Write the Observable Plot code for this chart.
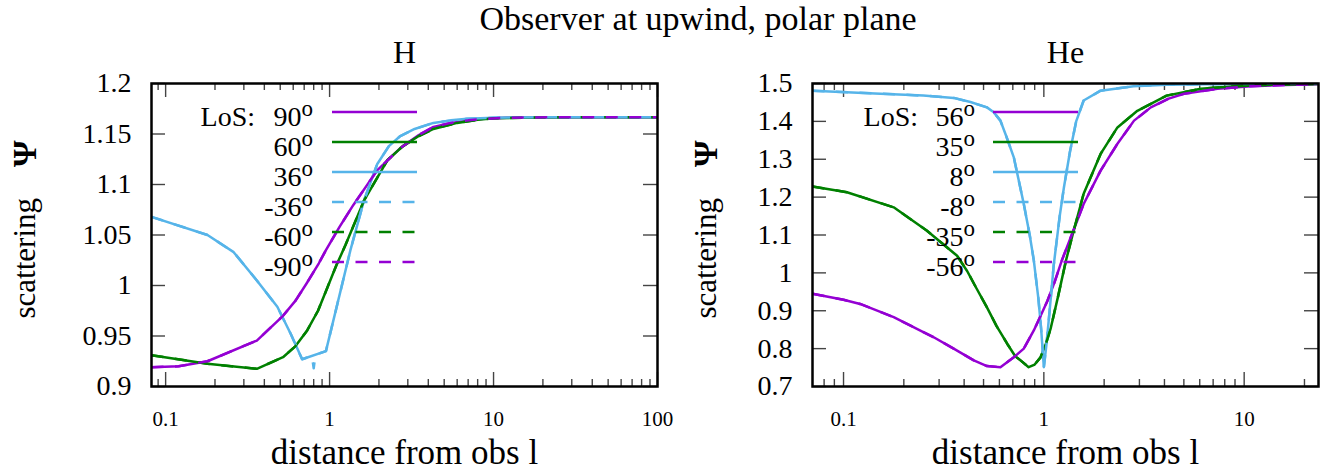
<!DOCTYPE html>
<html>
<head>
<meta charset="utf-8">
<script src="https://cdn.jsdelivr.net/npm/d3@7"></script>
<script src="https://cdn.jsdelivr.net/npm/@observablehq/plot@0.6"></script>
<style>
  body { margin: 0; background: #fff; }
  #chart { position: relative; width: 1330px; height: 471px; background: #fff; font-family: "Liberation Serif", "Times New Roman", serif; color: #000; }
  #chart svg { position: absolute; top: 0; }
  #title { position: absolute; top: 1px; left: 698px; transform: translateX(-50%); white-space: nowrap; font-size: 34px; line-height: 36px; z-index: 2; }
</style>
</head>
<body>
<div id="chart"><div id="title">Observer at upwind, polar plane</div></div>
<script>
// ---- H panel: scattering factor vs distance, one curve per line-of-sight angle ----
const H_x90 = [0.082, 0.12, 0.18, 0.36, 0.52, 0.62, 0.73, 0.86, 0.95, 1.15, 1.4, 1.95, 2.7, 3.5, 4.3, 5.5, 7, 8.7, 12, 17.5, 30, 60, 100];
const H_y90 = [0.919, 0.920, 0.925, 0.9455, 0.970, 0.985, 1.003, 1.022, 1.035, 1.058, 1.080, 1.114, 1.136, 1.149, 1.157, 1.161, 1.1635, 1.165, 1.166, 1.1664, 1.1666, 1.1667, 1.1667];

const H_x60 = [0.082, 0.18, 0.36, 0.52, 0.62, 0.73, 0.85, 0.97, 1.1, 1.25, 1.62, 2.25, 2.8, 3.5, 4.3, 6, 8, 10, 15, 30, 60, 100];
const H_y60 = [0.931, 0.9225, 0.9175, 0.929, 0.940, 0.9555, 0.975, 0.998, 1.020, 1.040, 1.084, 1.124, 1.138, 1.148, 1.155, 1.161, 1.164, 1.1655, 1.1662, 1.1666, 1.1667, 1.1667];

const H_x36 = [0.082, 0.18, 0.26, 0.36, 0.48, 0.58, 0.68, 0.95, 1.34, 1.62, 1.95, 2.3, 2.7, 3.3, 4.3, 5.5, 6.9, 10, 20, 50, 100];
const H_y36 = [1.068, 1.050, 1.033, 1.005, 0.979, 0.952, 0.927, 0.935, 1.035, 1.084, 1.120, 1.138, 1.148, 1.155, 1.161, 1.1635, 1.165, 1.1662, 1.1666, 1.1667, 1.1667];

// negative angles (dashed) follow their positive twins; -36 has a narrow dip near l = 0.8
const H_xm36 = [0.082, 0.18, 0.26, 0.36, 0.48, 0.58, 0.68, 0.78, 0.80, 0.82, 0.95, 1.34, 1.62, 1.95, 2.3, 2.7, 3.3, 4.3, 5.5, 6.9, 10, 20, 50, 100];
const H_ym36 = [1.068, 1.050, 1.033, 1.005, 0.979, 0.952, 0.927, 0.9303, 0.918, 0.9315, 0.935, 1.035, 1.084, 1.120, 1.138, 1.148, 1.155, 1.161, 1.1635, 1.165, 1.1662, 1.1666, 1.1667, 1.1667];

const H_yTicks = [0.9, 0.95, 1, 1.05, 1.1, 1.15, 1.2];
const H_xMajor = [0.1, 1, 10, 100];
const H_xMinor = [0.09, 0.2, 0.3, 0.4, 0.5, 0.6, 0.7, 0.8, 0.9, 2, 3, 4, 5, 6, 7, 8, 9, 20, 30, 40, 50, 60, 70, 80, 90];

// ---- He panel ----
const He_x56 = [0.07, 0.1, 0.121, 0.178, 0.282, 0.36, 0.447, 0.52, 0.607, 0.708, 0.794, 0.891, 0.96, 1.04, 1.13, 1.23, 1.4, 1.58, 1.92, 2.33, 2.82, 3.42, 4.2, 5.0, 7.36, 10.8, 16, 23.5];
const He_y56 = [0.945, 0.929, 0.918, 0.883, 0.830, 0.798, 0.769, 0.754, 0.751, 0.777, 0.800, 0.848, 0.885, 0.925, 0.975, 1.033, 1.110, 1.182, 1.270, 1.341, 1.402, 1.437, 1.460, 1.473, 1.486, 1.493, 1.496, 1.498];

const He_x35 = [0.07, 0.104, 0.178, 0.26, 0.369, 0.414, 0.46, 0.52, 0.58, 0.656, 0.72, 0.765, 0.84, 0.90, 0.963, 1.02, 1.08, 1.18, 1.29, 1.41, 1.58, 1.92, 2.33, 2.93, 4.1, 6.07, 8.9, 14, 23.5];
const He_y35 = [1.228, 1.213, 1.173, 1.112, 1.045, 1.005, 0.960, 0.909, 0.860, 0.813, 0.780, 0.769, 0.751, 0.758, 0.777, 0.810, 0.852, 0.940, 1.033, 1.112, 1.209, 1.314, 1.384, 1.428, 1.468, 1.486, 1.493, 1.497, 1.499];

const He_x8 = [0.07, 0.153, 0.25, 0.355, 0.43, 0.52, 0.56, 0.607, 0.65, 0.708, 0.794, 0.85, 0.891, 0.94, 0.97, 1.0, 1.03, 1.06, 1.09, 1.12, 1.2, 1.26, 1.35, 1.45, 1.58, 1.92, 2.8, 4.1, 8, 23.5];
const He_y8 = [1.481, 1.473, 1.468, 1.462, 1.451, 1.437, 1.425, 1.402, 1.36, 1.305, 1.182, 1.10, 1.033, 0.93, 0.85, 0.751, 0.81, 0.88, 0.95, 1.02, 1.15, 1.226, 1.32, 1.40, 1.455, 1.481, 1.493, 1.497, 1.499, 1.5];

const He_yTicks = [0.7, 0.8, 0.9, 1, 1.1, 1.2, 1.3, 1.4, 1.5];
const He_xMajor = [0.1, 1, 10];
const He_xMinor = [0.08, 0.09, 0.2, 0.3, 0.4, 0.5, 0.6, 0.7, 0.8, 0.9, 2, 3, 4, 5, 6, 7, 8, 9, 20];

const PURPLE = "#9400d3", GREEN = "#008000", SKY = "#56b4e9";
const DASH = "12,11.5";
const SERIF = '"Liberation Serif", "Times New Roman", serif';

const H_series = [
  {label: "90",  color: PURPLE, dashed: false, x: H_x90,  y: H_y90},
  {label: "60",  color: GREEN,  dashed: false, x: H_x60,  y: H_y60},
  {label: "36",  color: SKY,    dashed: false, x: H_x36,  y: H_y36},
  {label: "-36", color: SKY,    dashed: true,  x: H_xm36, y: H_ym36},
  {label: "-60", color: GREEN,  dashed: true,  x: H_x60,  y: H_y60},
  {label: "-90", color: PURPLE, dashed: true,  x: H_x90,  y: H_y90}
];
const He_series = [
  {label: "56",  color: PURPLE, dashed: false, x: He_x56, y: He_y56},
  {label: "35",  color: GREEN,  dashed: false, x: He_x35, y: He_y35},
  {label: "8",   color: SKY,    dashed: false, x: He_x8,  y: He_y8},
  {label: "-8",  color: SKY,    dashed: true,  x: He_x8,  y: He_y8},
  {label: "-35", color: GREEN,  dashed: true,  x: He_x35, y: He_y35},
  {label: "-56", color: PURPLE, dashed: true,  x: He_x56, y: He_y56}
];

const fmtY = d => String(+d.toFixed(2));

function drawPanel(cfg) {
  const W = 665, H = 471, mt = 83, mb = 85;
  const fw = W - cfg.ml - cfg.mr, fh = H - mt - mb;
  const tick = {stroke: "#444", strokeWidth: 1.4};
  const lines = cfg.series.map(s => Plot.line(d3.zip(s.x, s.y), {
    x: d => d[0], y: d => d[1], stroke: s.color, strokeWidth: 2.5,
    strokeDasharray: s.dashed ? DASH : null, strokeLinecap: s.dashed ? "butt" : "round",
    strokeLinejoin: "round", clip: true
  }));
  const svg = Plot.plot({
    width: W, height: H,
    marginLeft: cfg.ml, marginRight: cfg.mr, marginTop: mt, marginBottom: mb,
    style: {fontFamily: SERIF, color: "black", background: "none", overflow: "visible"},
    x: {type: "log", domain: cfg.xDomain},
    y: {domain: cfg.yDomain},
    marks: [
      // inward ticks on all four sides
      Plot.ruleY(cfg.yTicks, {y: d => d, ...tick, insetRight: fw - 14}),
      Plot.ruleY(cfg.yTicks, {y: d => d, ...tick, insetLeft: fw - 14}),
      Plot.ruleX(cfg.xMajor, {x: d => d, ...tick, insetTop: fh - 14}),
      Plot.ruleX(cfg.xMajor, {x: d => d, ...tick, insetBottom: fh - 14}),
      Plot.ruleX(cfg.xMinor, {x: d => d, ...tick, insetTop: fh - 7}),
      Plot.ruleX(cfg.xMinor, {x: d => d, ...tick, insetBottom: fh - 7}),
      ...lines,
      Plot.frame({stroke: "black", strokeWidth: 2.5}),
      Plot.axisY(cfg.yTicks, {anchor: "left", tickSize: 0, tickPadding: 20, fontSize: 28, tickFormat: fmtY, label: null}),
      Plot.axisX(cfg.xMajor, {anchor: "bottom", tickSize: 0, tickPadding: 25, fontSize: 21, tickFormat: d => String(d), label: null}),
      Plot.text([cfg.subtitle], {text: d => d, frameAnchor: "top", lineAnchor: "middle", dy: -31, fontSize: 32}),
      Plot.text(["distance from obs l"], {text: d => d, frameAnchor: "bottom", lineAnchor: "middle", dy: 66, fontSize: 35}),
      Plot.text(["scattering"], {text: d => d, frameAnchor: "left", lineAnchor: "middle", rotate: -90, textAnchor: "start", dx: cfg.ylabDx, dy: 83.5, fontSize: 31}),
      Plot.text(["Ψ"], {text: d => d, frameAnchor: "left", lineAnchor: "middle", rotate: -90, textAnchor: "end", dx: cfg.ylabDx, dy: -94.5, fontSize: 34, fontWeight: "bold"})
    ]
  });
  svg.style.left = cfg.left + "px";
  addLegend(svg, cfg.series, cfg.legend);
  document.getElementById("chart").appendChild(svg);
}

// key drawn inside the frame: "LoS:" then one row per angle with a line sample
function addLegend(svg, series, o) {
  const g = d3.select(svg).append("g")
    .attr("font-family", SERIF).attr("font-size", 28).attr("fill", "black");
  g.append("text").attr("x", o.losX).attr("y", o.y0 + 14).attr("text-anchor", "end").text("LoS:");
  series.forEach((s, i) => {
    const y = o.y0 + i * 30;
    const t = g.append("text").attr("x", o.textX).attr("y", y + 14).attr("text-anchor", "end");
    t.append("tspan").text(s.label);
    t.append("tspan").attr("dy", -10.5).attr("font-size", 23).text("o");
    g.append("line")
      .attr("x1", o.x1).attr("x2", o.x2).attr("y1", y).attr("y2", y)
      .attr("stroke", s.color).attr("stroke-width", 2.5)
      .attr("stroke-dasharray", s.dashed ? DASH : null);
  });
}

drawPanel({
  left: 0, ml: 151, mr: 8, xDomain: [0.082, 100], yDomain: [0.9, 1.2],
  yTicks: H_yTicks, xMajor: H_xMajor, xMinor: H_xMinor, series: H_series,
  subtitle: "H", ylabDx: -126,
  legend: {y0: 112, losX: 255, textX: 313, x1: 332, x2: 417}
});
drawPanel({
  left: 665, ml: 147, mr: 12, xDomain: [0.07, 23.5], yDomain: [0.7, 1.5],
  yTicks: He_yTicks, xMajor: He_xMajor, xMinor: He_xMinor, series: He_series,
  subtitle: "He", ylabDx: -106,
  legend: {y0: 112, losX: 253, textX: 310, x1: 328, x2: 413}
});
</script>
</body>
</html>
